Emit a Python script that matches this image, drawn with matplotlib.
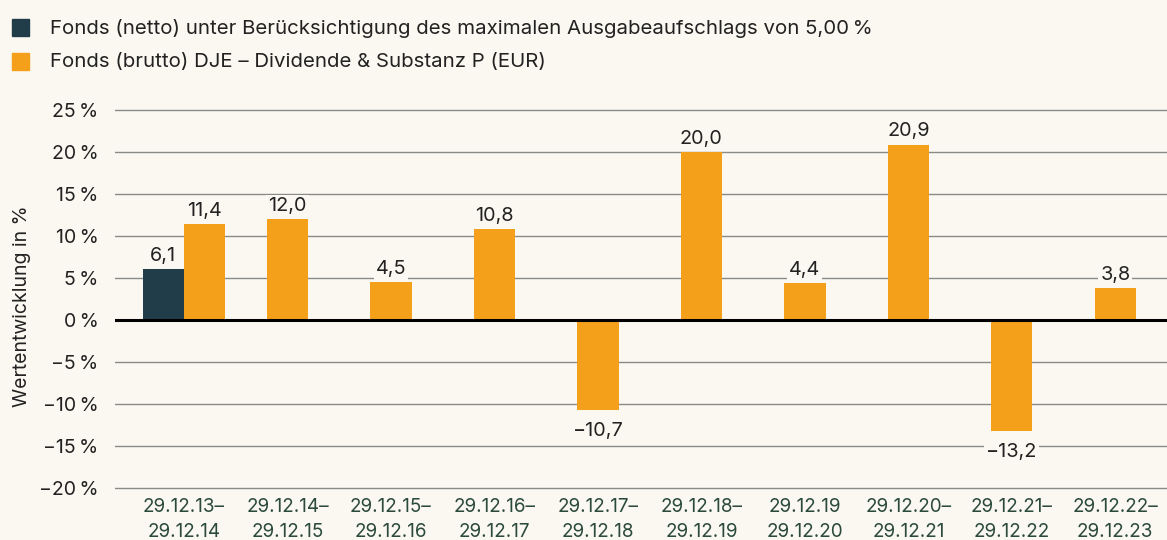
import matplotlib.pyplot as plt
import numpy as np

# Wertentwicklung DJE - Dividende & Substanz P (EUR)
zeitraeume = ['29.12.13–\n29.12.14', '29.12.14–\n29.12.15', '29.12.15–\n29.12.16',
              '29.12.16–\n29.12.17', '29.12.17–\n29.12.18', '29.12.18–\n29.12.19',
              '29.12.19\n29.12.20', '29.12.20–\n29.12.21', '29.12.21–\n29.12.22',
              '29.12.22–\n29.12.23']
netto = [6.1, None, None, None, None, None, None, None, None, None]
brutto = [11.4, 12.0, 4.5, 10.8, -10.7, 20.0, 4.4, 20.9, -13.2, 3.8]
yticks = [-20, -15, -10, -5, 0, 5, 10, 15, 20, 25]

label_netto = 'Fonds (netto) unter Berücksichtigung des maximalen Ausgabeaufschlags von 5,00\u2009%'
label_brutto = 'Fonds (brutto) DJE – Dividende & Substanz P (EUR)'

bg = '#fbf8f1'
c_netto = '#213d4a'
c_brutto = '#f5a01a'
c_text = '#222222'

plt.rcParams['font.family'] = ['Inter', 'DejaVu Sans']

fig = plt.figure(figsize=(11.67, 5.4), dpi=100, facecolor=bg)
ax = fig.add_axes([115 / 1167, 1 - 490 / 540, 1 - 115 / 1167, (490 - 108) / 540])
ax.set_facecolor(bg)

w = 0.4
x = np.arange(len(zeitraeume))


def fmt(v):
    return f'{v:.1f}'.replace('.', ',').replace('-', '−')


def value_label(xp, v):
    off = 3 if v >= 0 else -9
    ax.annotate(fmt(v), (xp, v), xytext=(0, off), textcoords='offset points',
                ha='center', va='bottom' if v >= 0 else 'top', fontsize=14.3,
                color=c_text, zorder=5,
                bbox=dict(boxstyle='square,pad=0.1', fc=bg, ec='none'))


for i in range(len(zeitraeume)):
    if netto[i] is not None:
        ax.bar(x[i] - w / 2, netto[i], w, color=c_netto, zorder=3)
        ax.bar(x[i] + w / 2, brutto[i], w, color=c_brutto, zorder=3)
        value_label(x[i] - w / 2, netto[i])
        value_label(x[i] + w / 2, brutto[i])
    else:
        ax.bar(x[i], brutto[i], w, color=c_brutto, zorder=3)
        value_label(x[i], brutto[i])

for t in yticks:
    if t == 0:
        ax.axhline(0, color='black', lw=2.2, zorder=4)
    else:
        ax.axhline(t, color='#8a8a86', lw=1.0, zorder=1)

ax.set_xlim(-0.667, 9.5)
ax.set_ylim(-20.25, 25.25)
ax.set_yticks(yticks)
ax.set_yticklabels([f'{t}\u2009%'.replace('-', '−') for t in yticks], fontsize=14, color=c_text)
ax.set_xticks(x)
ax.set_xticklabels(zeitraeume, fontsize=13.6, color='#2b4a3a', linespacing=1.45)
ax.tick_params(axis='both', length=0)
ax.tick_params(axis='y', pad=12)
ax.tick_params(axis='x', pad=6)
for s in ax.spines.values():
    s.set_visible(False)

ax.set_ylabel('Wertentwicklung in %', fontsize=14, color=c_text)
ax.yaxis.set_label_coords(-0.08, 0.48)

# Legende
fig.patches.append(plt.Rectangle((12 / 1167, 1 - 36 / 540), 17 / 1167, 17 / 540,
                                 transform=fig.transFigure, color=c_netto))
fig.patches.append(plt.Rectangle((12 / 1167, 1 - 70 / 540), 17 / 1167, 17 / 540,
                                 transform=fig.transFigure, color=c_brutto))
fig.text(50 / 1167, 1 - 28 / 540, label_netto, fontsize=14.7, color=c_text, va='center')
fig.text(50 / 1167, 1 - 62 / 540, label_brutto, fontsize=14.7, color=c_text, va='center')

fig.savefig('out.png', dpi=100, facecolor=bg)
